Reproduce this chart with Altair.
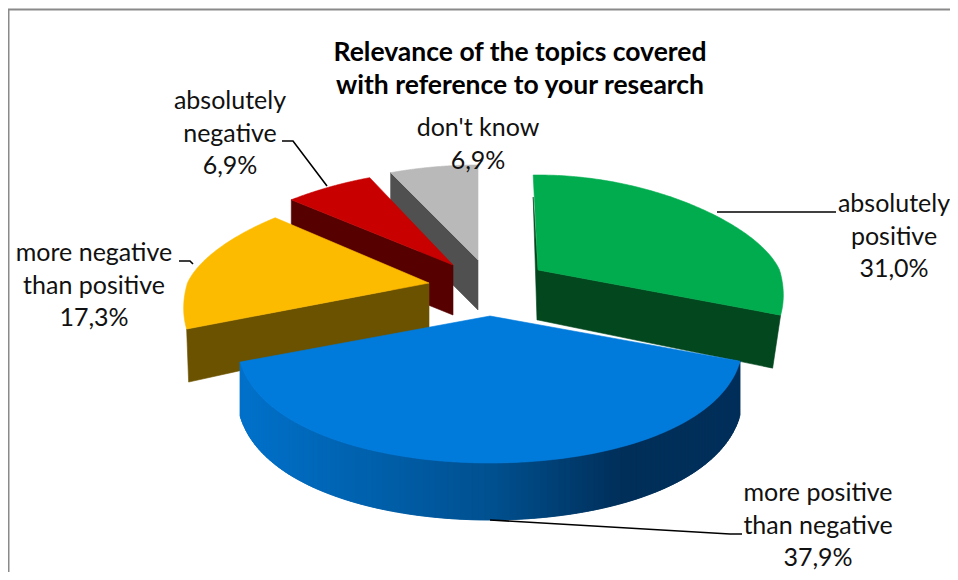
import math
import altair as alt

# ---- data ----
categories = ["absolutely positive", "more positive than negative", "more negative than positive", "absolutely negative", "don't know"]
values = [31.0, 37.9, 17.3, 6.9, 6.9]
label_lines = [["absolutely", "positive", "31,0%"],
               ["more positive", "than negative", "37,9%"],
               ["more negative", "than positive", "17,3%"],
               ["absolutely", "negative", "6,9%"],
               ["don't know", "6,9%"]]
title_lines = ["Relevance of the topics covered", "with reference to your research"]

# ---- style / layout ----
top_col = ["#00ac4e", "#007bdc", "#fdbb00", "#c80000", "#b9b9b9"]
wall_col = ["#03471f", "#00508f", "#6b5200", "#560000", "#505050"]
apex = [(538, 270), (490, 316), (429, 283), (453, 265), (478, 260)]
rx_scale = [0.97, 1.0, 0.97, 1.02, 1.07]
start_trim = [-1.5, 0, 0, 0, 0]
label_pos = [(894, 204), (818, 493), (94, 253), (230, 101), (478, 128)]
leaders = [[(717, 212), (836, 212)],
           [(490, 520), (730, 534), (742, 534)],
           [(179, 261), (190, 261), (193, 264)],
           [(282, 141), (293, 141), (327, 186)]]
START = 0.0
RX, RX_K, RY_F, RY_B = 249.0, 45.0, 147.0, 95.0
LINE_H = 32.5


def lerp_hex(a, b, t):
    ca = [int(a[i:i + 2], 16) for i in (1, 3, 5)]
    cb = [int(b[i:i + 2], 16) for i in (1, 3, 5)]
    return "#%02x%02x%02x" % tuple(round(p + (q - p) * t) for p, q in zip(ca, cb))


def warp(deg):
    return deg - 4.0 * math.sin(math.radians(deg))


def rim(c, deg, sc=1.0):
    r = math.radians(warp(deg))
    u, v = math.sin(r), -math.cos(r)
    return (c[0] + (RX + RX_K * v) * u * sc, c[1] + (RY_F if v > 0 else RY_B) * v)


def depth(deg):
    v = -math.cos(math.radians(warp(deg)))
    return 50 + 7 * max(v, 0) ** 0.5 if v > 0 else 50


def poly(pts, col):
    ring = [[p[0], p[1]] for p in pts]
    ring.append(ring[0])
    return {"type": "Feature", "geometry": {"type": "Polygon", "coordinates": [ring]}, "properties": {"fill": col}}


def line(pts):
    return {"type": "Feature", "geometry": {"type": "LineString", "coordinates": [list(p) for p in pts]}, "properties": {}}


spans = []
a = START
for val in values:
    spans.append((a, a + val * 3.6))
    a += val * 3.6


def drop(p, d, dx=0):
    return (p[0] + dx, p[1] + d)


features = []
for i in [4, 3, 2, 0, 1]:
    s, e = spans[i]
    s += start_trim[i]
    c = apex[i]
    sc = rx_scale[i]
    arc = [s + (e - s) * k / 120 for k in range(121)]
    p_s, p_e = rim(c, s, sc), rim(c, e, sc)
    if i in (3, 4):  # left cut visible
        features.append(poly([p_s, c, drop(c, 50), drop(p_s, 50)], wall_col[i]))
    if i == 2:
        features.append(poly([p_s, c, drop(c, 46), drop(p_s, 53, 2)], wall_col[i]))
    if i == 0:
        features.append(poly([drop(p_s, 22), c, drop(c, 50), drop(c, 50, -1)], wall_col[i]))
        features.append(poly([c, p_e, drop(p_e, 53, -8), drop(c, 50)], wall_col[i]))
    if i == 1:
        for k in range(len(arc) - 1):
            j = min(k + 2, len(arc) - 1)
            p, q = rim(c, arc[k], sc), rim(c, arc[j], sc)
            t = (0.5 * (p[0] + q[0]) - (c[0] - 255)) / 510
            if t > 0.5:
                col = lerp_hex("#00508f", "#002f5a", min((t - 0.5) / 0.25, 1))
            else:
                col = lerp_hex("#0072cc", "#00508f", t / 0.5)
            features.append(poly([p, q, drop(q, depth(arc[j])), drop(p, depth(arc[k]))], col))
    features.append(poly([c] + [rim(c, d, sc) for d in arc], top_col[i]))

proj = dict(type="identity", scale=1, translate=[-8, -8])

shapes = alt.Chart(alt.InlineData(values=features)).mark_geoshape(strokeWidth=0.6).encode(
    fill=alt.Fill("properties.fill:N", scale=None),
    stroke=alt.Stroke("properties.fill:N", scale=None),
).project(**proj)

lead = alt.Chart(alt.InlineData(values=[line(l) for l in leaders])).mark_geoshape(
    filled=False, stroke="black", strokeWidth=1.6
).project(**proj)

frame = alt.Chart(alt.InlineData(values=[line([(8.5, 590), (8.5, 9.5), (970, 9.5)])])).mark_geoshape(
    filled=False, stroke="#8a8a8a", strokeWidth=2
).project(**proj)

rows = []
for lines, (x, y) in zip(label_lines, label_pos):
    for j, t in enumerate(lines):
        rows.append({"t": t, "lon": x, "lat": y + j * LINE_H})
labels = alt.Chart(alt.Data(values=rows)).mark_text(
    font="Lato", fontSize=25, color="#111111", align="center", baseline="middle"
).encode(longitude="lon:Q", latitude="lat:Q", text="t:N").project(**proj)

trows = [{"t": t, "lon": 520, "lat": 53 + j * 33} for j, t in enumerate(title_lines)]
title = alt.Chart(alt.Data(values=trows)).mark_text(
    font="Lato", fontSize=26.5, fontWeight="bold", color="black", align="center", baseline="middle"
).encode(longitude="lon:Q", latitude="lat:Q", text="t:N").project(**proj)

chart = alt.layer(frame, shapes, lead, labels, title).properties(
    width=942, height=564, padding=0, background="white",
    autosize=alt.AutoSizeParams(type="none"),
).configure_view(stroke=None)

chart.save("out.html", embed_options={"renderer": "svg", "actions": False})
